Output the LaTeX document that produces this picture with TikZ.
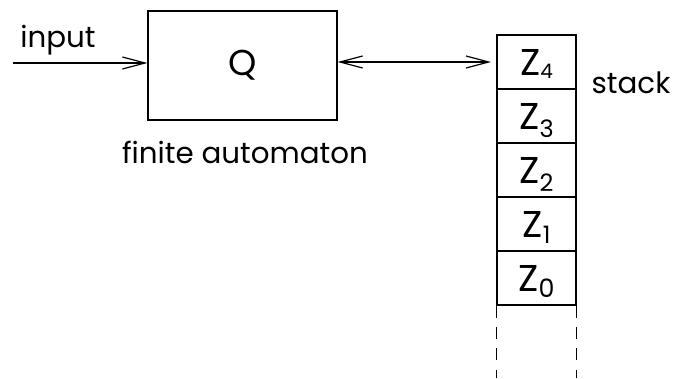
\documentclass[tikz,border=0pt]{standalone}
\usepackage{fontspec}
\setmainfont{Poppins}
\usetikzlibrary{arrows.meta,positioning}
\newcommand{\zsub}[3]{\raisebox{-#2pt}[0pt][0pt]{\fontsize{#3}{#3}\selectfont#1}}
\tikzset{
    automaton box/.style={
        draw,line width=0.9pt,
        minimum width=189*0.75pt,minimum height=109*0.75pt,
        font=\fontsize{27}{30}\selectfont
    },
    stack cell/.style={
        draw,line width=0.9pt,
        minimum width=79*0.75pt,minimum height=54*0.75pt,
        inner sep=0pt,
        font=\fontsize{28}{30}\selectfont
    },
    label text/.style={font=\fontsize{22}{25}\selectfont},
    >={Straight Barb[length=17pt,width=9pt]}
}
\begin{document}
\begin{tikzpicture}[x=0.75pt,y=-0.75pt,line width=0.9pt]
\useasboundingbox (0,0) rectangle (680,378);
\node[automaton box] (fa) at (242.5,65.5) {Q};
\node[label text] (fa_label) at (245,152) {finite automaton};
\coordinate (in) at (13,63);
\node[label text] (in_label) at (58,40) {input};
\draw[->] (in) -- (in -| fa.west);
% the stack, top element first
\foreach \i/\y/\dn/\sz in {4/62/2.5/15,3/116/6/18,2/170/6/18,1/224/5/18,0/278/5/19}
    \node[stack cell] (z_\i) at (536.5,\y) {Z\zsub{\i}{\dn}{\sz}};
\node[label text] (stack_label) at (631,83) {stack};
\draw[<->,shorten >=4pt] (z_4.west -| fa.east) -- (z_4.west);
\draw[dash pattern=on 9pt off 7pt] (z_0.south west) -- ++(0,72);
\draw[dash pattern=on 9pt off 7pt] (z_0.south east) -- ++(0,72);
\end{tikzpicture}
\end{document}
